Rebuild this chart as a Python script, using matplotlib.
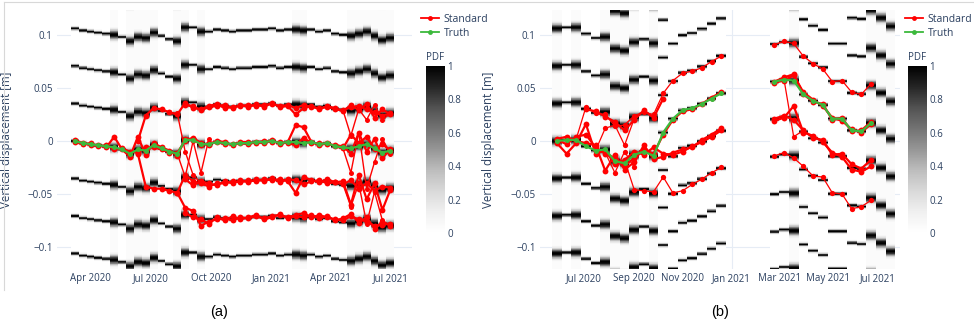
import numpy as np
import pandas as pd
import matplotlib
matplotlib.use("Agg")
import matplotlib.pyplot as plt
import matplotlib.dates as mdates
from matplotlib.lines import Line2D

plt.rcParams["font.family"] = ["Open Sans", "DejaVu Sans"]

nan = np.nan
AMBIG = 0.0354          # ambiguity step between PDF modes (m)
SHARP, HAZY = 0.0011, 0.003
INK = "#2a3f5f"
RED, GREEN = "#ff0000", "#3cb93c"

# ---------------- panel (a) ----------------
dates_a = pd.date_range("2020-03-08", periods=41, freq="12D")
truth_a = [0.000, -0.002, -0.003, -0.004, -0.005, -0.006, -0.008, -0.012, -0.008, -0.009,
           -0.004, -0.007, -0.010, -0.012, 0.001, 0.001, -0.003, -0.003, -0.001, -0.002,
           -0.003, -0.002, -0.002, -0.001, -0.001, 0.000, -0.002, -0.001, -0.001, -0.002,
           -0.001, -0.003, -0.002, -0.005, -0.006, -0.007, -0.005, -0.003, -0.007, -0.011, -0.009]
hazy_a = [5, 7, 8, 9, 10, 13, 14, 16, 28, 29, 35, 36, 37, 38, 39, 40]

# "Standard" estimates: (first index, values) -- thick bundles
std_a_thick = [
    (0, [0.001, -0.002, -0.004, -0.004, -0.006, 0.004, -0.008, -0.015, 0.004, -0.013,
         -0.002, -0.006, -0.009, -0.014, 0.002, 0.002, -0.004, -0.002, -0.001, -0.003,
         -0.003, -0.002, -0.003, -0.001, -0.002, 0.001, -0.003, -0.001, 0.015, 0.013,
         -0.001, -0.004, -0.002, -0.005, -0.007, 0.006, -0.002, 0.004, -0.008, -0.003, -0.009]),
    (0, [-0.001, -0.003, -0.002, -0.005, -0.004, -0.008, -0.007, -0.010, -0.011, -0.006,
         -0.006, -0.008, -0.011, -0.011, 0.000, 0.003, -0.002, -0.004, 0.000, -0.001,
         -0.004, -0.001, -0.001, -0.002, 0.000, -0.001, -0.001, -0.002, -0.004, 0.003,
         -0.002, -0.002, -0.003, -0.004, -0.005, -0.012, 0.008, -0.010, 0.002, -0.016, -0.008]),
    (8, [0.000, 0.024, 0.031, 0.030, 0.027, 0.025, 0.036, 0.031, 0.030, 0.033,
         0.035, 0.031, 0.032, 0.033, 0.034, 0.033, 0.034, 0.035, 0.033, 0.034,
         0.031, 0.034, 0.032, 0.031, 0.032, 0.030, 0.029, 0.032, 0.033, 0.030,
         0.027, 0.024, 0.026]),
    (14, [0.034, 0.033, 0.029, 0.032, 0.033, 0.034, 0.031, 0.034, 0.032, 0.035,
          0.032, 0.036, 0.032, 0.033, 0.025, 0.031, 0.033, 0.030, 0.033, 0.031,
          0.028, 0.034, 0.029, 0.035, 0.022, 0.030, 0.025]),
    (8, [-0.012, -0.043, -0.045, -0.045, -0.047, -0.049, -0.032, -0.038, -0.040, -0.043,
         -0.040, -0.040, -0.038, -0.039, -0.037, -0.038, -0.036, -0.037, -0.036, -0.038,
         -0.049, -0.034, -0.037, -0.039, -0.036, -0.039, -0.041, -0.037, -0.045, -0.040,
         -0.047, -0.043, -0.044]),
    (14, [-0.036, -0.042, -0.038, -0.040, -0.042, -0.038, -0.040, -0.037, -0.039, -0.036,
          -0.038, -0.035, -0.039, -0.036, -0.037, -0.041, -0.038, -0.037, -0.040, -0.039,
          -0.038, -0.060, -0.032, -0.055, -0.040, -0.065, -0.046]),
    (13, [-0.049, -0.063, -0.066, -0.080, -0.076,
          -0.074, -0.073, -0.075, -0.072, -0.073, -0.071, -0.073, -0.071, -0.070, -0.072,
          -0.070, -0.068, -0.072, -0.070, -0.072, -0.074, -0.075, -0.071, -0.074, -0.076,
          -0.080, -0.079, -0.078]),
    (14, [-0.068, -0.072, -0.074, -0.078, -0.072, -0.075, -0.071, -0.074, -0.072, -0.070,
          -0.074, -0.072, -0.069, -0.073, -0.071, -0.072, -0.070, -0.073, -0.071, -0.075,
          -0.073, -0.069, -0.077, -0.072, -0.083, -0.076, -0.080]),
]
std_a_cross = [
    (12, [0.027, 0.026, -0.010, -0.032, -0.040, -0.041]),
    (13, [-0.012, -0.034, 0.000, -0.030, 0.002]),
    (34, [-0.007, -0.030, 0.008, -0.045, -0.020, 0.002, -0.012]),
    (34, [-0.041, -0.062, -0.040, -0.078, -0.048, -0.075, -0.080]),
    (34, [0.029, 0.005, 0.030, 0.020, 0.034, 0.020, 0.026]),
]

# ---------------- panel (b) ----------------
dates_b1 = pd.date_range("2020-05-29", periods=18, freq="12D")
truth_b1 = [0.000, 0.001, 0.001, -0.005, -0.009, -0.008, -0.019, -0.021, -0.013, -0.010,
            -0.014, 0.008, 0.021, 0.029, 0.031, 0.035, 0.040, 0.045]
hazy_b1 = [0, 2, 5, 6, 7, 8, 10]
std_b1_thick = [
    (0, [0.001, -0.003, 0.004, 0.006, -0.006, -0.012, -0.016, -0.024, -0.016, -0.008,
         -0.012, 0.006, 0.020, 0.028, 0.030, 0.035, 0.041, 0.046]),
    (0, [-0.002, -0.012, -0.002, 0.016, -0.012, -0.009, -0.022, -0.018, -0.010, -0.013,
         -0.006, -0.012, -0.013, -0.010, -0.005, -0.001, 0.004, 0.010]),
    (0, [0.002, 0.004, 0.000, -0.002, -0.004, -0.028, -0.013, -0.027, -0.020, -0.004,
         -0.017, -0.015, -0.011, -0.008, -0.006, 0.001, 0.006, 0.012]),
    (3, [0.030, 0.028, 0.023, 0.018, 0.010, 0.020, 0.029, 0.022, 0.040]),
]
std_b1_thin = [
    (2, [0.002, 0.032, 0.026, 0.025, 0.014, 0.015, 0.024, 0.027, 0.025, 0.045,
         0.057, 0.064, 0.066, 0.069, 0.075, 0.080]),
    (7, [-0.018, -0.046, -0.047, -0.048, -0.034, -0.049, -0.047, -0.041, -0.036, -0.030, -0.025]),
    (4, [-0.009, 0.012, 0.015, -0.004, 0.021]),
    (5, [-0.011, -0.030, -0.010, -0.025]),
]

dates_b2 = pd.date_range("2021-02-23", periods=13, freq="12D")
truth_b2 = [0.056, 0.058, 0.057, 0.044, 0.038, 0.034, 0.021, 0.021, 0.010, 0.009,
            0.017, 0.010, 0.002]
n_obs_b2 = 11   # estimates stop on 23 Jun 2021, PDF continues
hazy_b2 = [2, 10, 11, 12]
std_b2_thick = [
    (0, [0.056, 0.060, 0.063, 0.044, 0.037, 0.035, 0.020, 0.022, 0.009, 0.010, 0.018]),
    (0, [0.055, 0.057, 0.062, 0.046, 0.039, 0.033, 0.022, 0.019, 0.011, 0.008, 0.016]),
    (0, [0.021, 0.024, 0.020, 0.010, 0.003, 0.001, -0.013, -0.012, -0.022, -0.026, -0.018]),
    (0, [0.019, 0.022, 0.033, 0.008, 0.005, -0.001, -0.011, -0.015, -0.027, -0.029, -0.024]),
]
std_b2_thin = [
    (0, [0.091, 0.094, 0.092, 0.080, 0.073, 0.068, 0.056, 0.057, 0.046, 0.044, 0.054]),
    (0, [-0.014, -0.011, -0.016, -0.024, -0.033, -0.034, -0.049, -0.050, -0.064, -0.062, -0.056]),
    (1, [0.058, 0.004, 0.010]),
]

Y_EDGES = np.linspace(-0.125, 0.125, 481)
Y_MID = 0.5 * (Y_EDGES[:-1] + Y_EDGES[1:])


def pdf_image(truth, hazy):
    t = np.asarray(truth)[None, :]
    s = np.full(len(truth), SHARP)
    s[hazy] = HAZY
    s = s[None, :]
    yy = Y_MID[:, None]
    z = np.zeros((len(Y_MID), len(truth)))
    for m in range(-6, 7):
        z = np.maximum(z, np.exp(-0.5 * ((yy - t - m * AMBIG) / s) ** 2))
    haze = np.zeros(len(truth))
    haze[hazy] = 0.035
    return np.maximum(z, haze[None, :])


def draw_pdf(ax, dates, truth, hazy):
    x = mdates.date2num(dates.to_pydatetime())
    edges = np.concatenate([x - 6, [x[-1] + 6]])
    return ax.pcolormesh(edges, Y_EDGES, pdf_image(truth, hazy), cmap="Greys",
                         vmin=0, vmax=1, shading="flat", zorder=1, rasterized=True)


def draw_tracks(ax, dates, tracks, lw, ms):
    for start, vals in tracks:
        d = dates[start:start + len(vals)]
        ax.plot(d, vals, color=RED, lw=lw, marker="o", ms=ms, mew=0, zorder=3)


def style_axes(ax, xlim, locator):
    ax.set_xlim(pd.Timestamp(xlim[0]), pd.Timestamp(xlim[1]))
    ax.set_ylim(-0.1208, 0.1236)
    ax.set_yticks([-0.1, -0.05, 0, 0.05, 0.1])
    ax.set_yticklabels(["\u22120.1", "\u22120.05", "0", "0.05", "0.1"])
    ax.xaxis.set_major_locator(locator)
    ax.xaxis.set_major_formatter(mdates.DateFormatter("%b %Y"))
    ax.tick_params(length=0, labelsize=7, labelcolor=INK, pad=3)
    ax.grid(True, color="#e6ecf5", lw=0.8)
    ax.set_axisbelow(True)
    for sp in ax.spines.values():
        sp.set_visible(False)
    ax.set_ylabel("Vertical displacement [m]", fontsize=8.3, color=INK)
    ax.yaxis.set_label_coords(-0.125, 0.5)


def add_colorbar(fig, mesh, left):
    cax = fig.add_axes([left, 0.283, 0.019, 0.515])
    cb = fig.colorbar(mesh, cax=cax, ticks=[0, 0.2, 0.4, 0.6, 0.8, 1])
    cb.ax.set_yticklabels(["0", "0.2", "0.4", "0.6", "0.8", "1"])
    cb.outline.set_visible(False)
    cax.tick_params(length=0, labelsize=7, labelcolor=INK, pad=2)
    cax.set_title("PDF", fontsize=7, color=INK, pad=4)


def add_legend(fig, x):
    handles = [Line2D([], [], color=RED, lw=1.3, marker="o", ms=3.5, mew=0, label="Standard"),
               Line2D([], [], color=GREEN, lw=1.3, marker="o", ms=3.5, mew=0, label="Truth")]
    fig.legend(handles=handles, loc="upper left", bbox_to_anchor=(x, 1 - 14 / 325),
               frameon=False, fontsize=7.5, labelcolor=INK, handlelength=1.7,
               handletextpad=0.5, labelspacing=0.3, borderpad=0, borderaxespad=0)


fig = plt.figure(figsize=(9.74, 3.25), dpi=100)
ax_a = fig.add_axes([57 / 974, 1 - 269 / 325, 355 / 974, 259 / 325])
ax_b = fig.add_axes([540 / 974, 1 - 269 / 325, 360 / 974, 259 / 325])

# (a)
mesh = draw_pdf(ax_a, dates_a, truth_a, hazy_a)
draw_tracks(ax_a, dates_a, std_a_thick, 1.6, 4.2)
draw_tracks(ax_a, dates_a, std_a_cross, 1.0, 3.6)
ax_a.plot(dates_a, truth_a, color=GREEN, lw=1.6, marker="o", ms=3.6, mew=0, zorder=4)
style_axes(ax_a, ("2020-02-10", "2021-08-03"), mdates.MonthLocator(bymonth=[1, 4, 7, 10]))

# (b)
draw_pdf(ax_b, dates_b1, truth_b1, hazy_b1)
draw_pdf(ax_b, dates_b2, truth_b2, hazy_b2)
draw_tracks(ax_b, dates_b1, std_b1_thick, 1.6, 4.2)
draw_tracks(ax_b, dates_b1, std_b1_thin, 0.9, 3.8)
draw_tracks(ax_b, dates_b2, std_b2_thick, 1.6, 4.2)
draw_tracks(ax_b, dates_b2, std_b2_thin, 0.9, 3.8)
ax_b.plot(dates_b1, truth_b1, color=GREEN, lw=1.6, marker="o", ms=3.6, mew=0, zorder=4)
ax_b.plot(dates_b2[:n_obs_b2], truth_b2[:n_obs_b2], color=GREEN, lw=1.6, marker="o",
          ms=3.6, mew=0, zorder=4)
style_axes(ax_b, ("2020-05-08", "2021-07-29"), mdates.MonthLocator(bymonth=[1, 3, 5, 7, 9, 11]))

add_colorbar(fig, mesh, 426 / 974)
add_colorbar(fig, mesh, 908 / 974)
add_legend(fig, 421 / 974)
add_legend(fig, 905 / 974)

fig.text(219 / 974, 1 - 312 / 325, "(a)", ha="center", va="center", fontsize=10.5,
         family="Liberation Sans", color="black")
fig.text(720 / 974, 1 - 312 / 325, "(b)", ha="center", va="center", fontsize=10.5,
         family="Liberation Sans", color="black")

# light frame around the figure panel
fig.add_artist(Line2D([4 / 974, 1], [1 - 1.5 / 325] * 2, transform=fig.transFigure,
                      color="#d8d8d8", lw=0.8))
fig.add_artist(Line2D([4 / 974] * 2, [1 - 1.5 / 325, 1 - 290 / 325], transform=fig.transFigure,
                      color="#d8d8d8", lw=0.8))

fig.savefig("out.png", dpi=100)
